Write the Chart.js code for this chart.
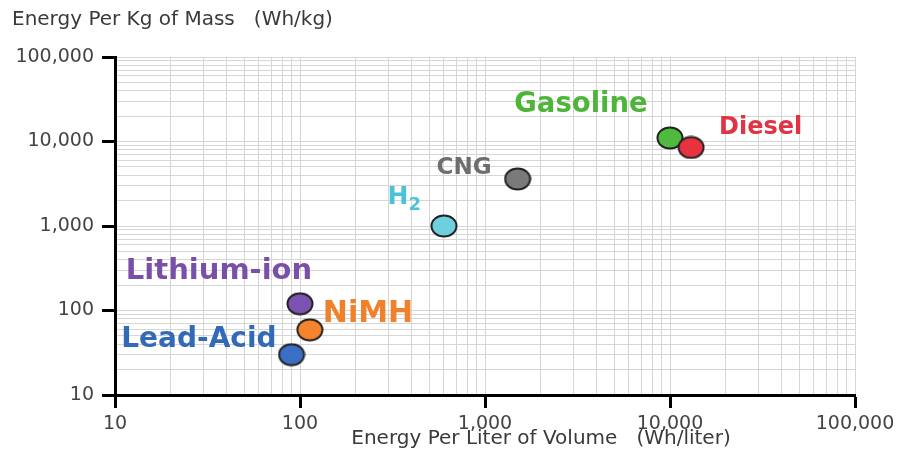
<!DOCTYPE html>
<html>
<head>
<meta charset="utf-8">
<script src="https://cdn.jsdelivr.net/npm/chart.js@4.4.1/dist/chart.umd.min.js"></script>
<style>
  html, body { margin: 0; padding: 0; background: #ffffff; }
  #wrap { width: 901px; height: 475px; position: relative; }
</style>
</head>
<body>
<div id="wrap"><canvas id="c" width="901" height="475"></canvas></div>
<script>
// ---- data ----
const materials   = ['Lead-Acid', 'Lithium-ion', 'NiMH', 'H2', 'CNG', 'Gasoline', 'Diesel'];
const whPerLiter  = [90, 100, 113, 600, 1500, 10000, 13000];
const whPerKg     = [30, 120, 59, 1000, 3600, 11000, 8500];
const decadeTicks = [10, 100, 1000, 10000, 100000];
const xTickLabels = ['10', '100', '1,000', '10,000', '100,000'];
const yTickLabels = ['10', '100', '1,000', '10,000', '100,000'];
const xTitle = 'Energy Per Liter of Volume   (Wh/liter)';
const yTitle = 'Energy Per Kg of Mass   (Wh/kg)';

// ---- styles ----
const fillColors  = ['#3a6fc4', '#7b52b0', '#f5842c', '#70cfdc', '#7a7a7a', '#4fbb3c', '#e8323f'];
const textColors  = ['#336ab8', '#7a4fa8', '#f0812a', '#4cc2d8', '#6e6e6e', '#4db63a', '#e03444'];
// label placement relative to point: dx, dy, align, font size
const labelStyle = [
  { dx: -15, dy: -15, align: 'right',  size: 28 },
  { dx: -81, dy: -32, align: 'center', size: 29 },
  { dx: 13,  dy: -16, align: 'left',   size: 30 },
  { dx: -23, dy: -29, align: 'right',  size: 25 },
  { dx: -26, dy: -11, align: 'right',  size: 23 },
  { dx: -89, dy: -33, align: 'center', size: 27.5 },
  { dx: 28,  dy: -20, align: 'left',   size: 24 }
];

function ellipseImage(color) {
  const cv = document.createElement('canvas');
  cv.width = 28; cv.height = 24;
  const g = cv.getContext('2d');
  g.beginPath();
  g.ellipse(14, 12, 12.5, 10.5, 0, 0, Math.PI * 2);
  g.fillStyle = color;
  g.fill();
  g.lineWidth = 2;
  g.strokeStyle = '#222222';
  g.stroke();
  return cv;
}
const pointImages = fillColors.map(ellipseImage);

// all log grid values 1..9 x 10^n
const gridValues = [];
for (let d = 0; d < decadeTicks.length; d++) {
  const base = decadeTicks[d];
  if (d === decadeTicks.length - 1) { gridValues.push(base); break; }
  for (let m = 1; m <= 9; m++) gridValues.push(base * m);
}
const isDecade = v => decadeTicks.indexOf(v) !== -1;

const labelsPlugin = {
  id: 'labels',
  afterDatasetsDraw(chart) {
    const ctx = chart.ctx;
    const meta = chart.getDatasetMeta(0);
    ctx.save();
    ctx.textBaseline = 'middle';
    meta.data.forEach((pt, i) => {
      const st = labelStyle[i];
      const x = pt.x + st.dx, y = pt.y + st.dy;
      ctx.fillStyle = textColors[i];
      ctx.font = 'bold ' + st.size + 'px "DejaVu Sans"';
      if (materials[i] === 'H2') {
        ctx.textAlign = 'left';
        const subFont = 'bold ' + Math.round(st.size * 0.7) + 'px "DejaVu Sans"';
        const wH = ctx.measureText('H').width;
        ctx.font = subFont;
        const w2 = ctx.measureText('2').width;
        const left = x - wH - w2;
        ctx.font = 'bold ' + st.size + 'px "DejaVu Sans"';
        ctx.fillText('H', left, y);
        ctx.font = subFont;
        ctx.fillText('2', left + wH, y + 8);
      } else {
        ctx.textAlign = st.align;
        ctx.fillText(materials[i], x, y);
      }
    });
    ctx.restore();
  }
};

const titlesPlugin = {
  id: 'axisTitles',
  afterDraw(chart) {
    const ctx = chart.ctx;
    ctx.save();
    ctx.fillStyle = '#3a3a3a';
    ctx.font = '20px "DejaVu Sans"';
    ctx.textBaseline = 'middle';
    ctx.textAlign = 'left';
    ctx.fillText(yTitle, 12, 20);
    ctx.textAlign = 'center';
    ctx.fillText(xTitle, 541, 439);
    ctx.restore();
  }
};

const gridCommon = {
  color: '#d6d6d6',
  lineWidth: 1,
  drawOnChartArea: true,
  drawTicks: true,
  tickLength: 13,
  tickColor: ctx => (ctx.tick && isDecade(ctx.tick.value)) ? '#000000' : 'rgba(0,0,0,0)',
  tickWidth: 3
};

new Chart(document.getElementById('c'), {
  type: 'scatter',
  data: {
    datasets: [{
      label: 'Energy density',
      data: whPerLiter.map((v, i) => ({ x: v, y: whPerKg[i] })),
      pointStyle: ctx => pointImages[ctx.dataIndex],
      pointRadius: 12,
      pointHoverRadius: 12
    }]
  },
  options: {
    responsive: false,
    animation: false,
    devicePixelRatio: 1,
    layout: { padding: { top: 57, right: 46, left: 0, bottom: 0 } },
    plugins: { legend: { display: false }, tooltip: { enabled: false }, title: { display: false } },
    scales: {
      x: {
        type: 'logarithmic',
        min: 10, max: 100000,
        afterBuildTicks: s => { s.ticks = gridValues.map(v => ({ value: v })); },
        afterFit: s => { s.height = 80; },
        border: { display: true, color: '#000000', width: 3 },
        grid: gridCommon,
        ticks: {
          autoSkip: false, maxRotation: 0, padding: 5,
          color: '#444444',
          font: { family: 'DejaVu Sans', size: 19 },
          callback: v => { const k = decadeTicks.indexOf(v); return k === -1 ? '' : xTickLabels[k]; }
        }
      },
      y: {
        type: 'logarithmic',
        min: 10, max: 100000,
        afterBuildTicks: s => { s.ticks = gridValues.map(v => ({ value: v })); },
        afterFit: s => { s.width = 115; },
        border: { display: true, color: '#000000', width: 3 },
        grid: gridCommon,
        ticks: {
          autoSkip: false, padding: 8,
          color: '#444444',
          font: { family: 'DejaVu Sans', size: 19 },
          callback: v => { const k = decadeTicks.indexOf(v); return k === -1 ? '' : yTickLabels[k]; }
        }
      }
    }
  },
  plugins: [labelsPlugin, titlesPlugin]
});
</script>
</body>
</html>
